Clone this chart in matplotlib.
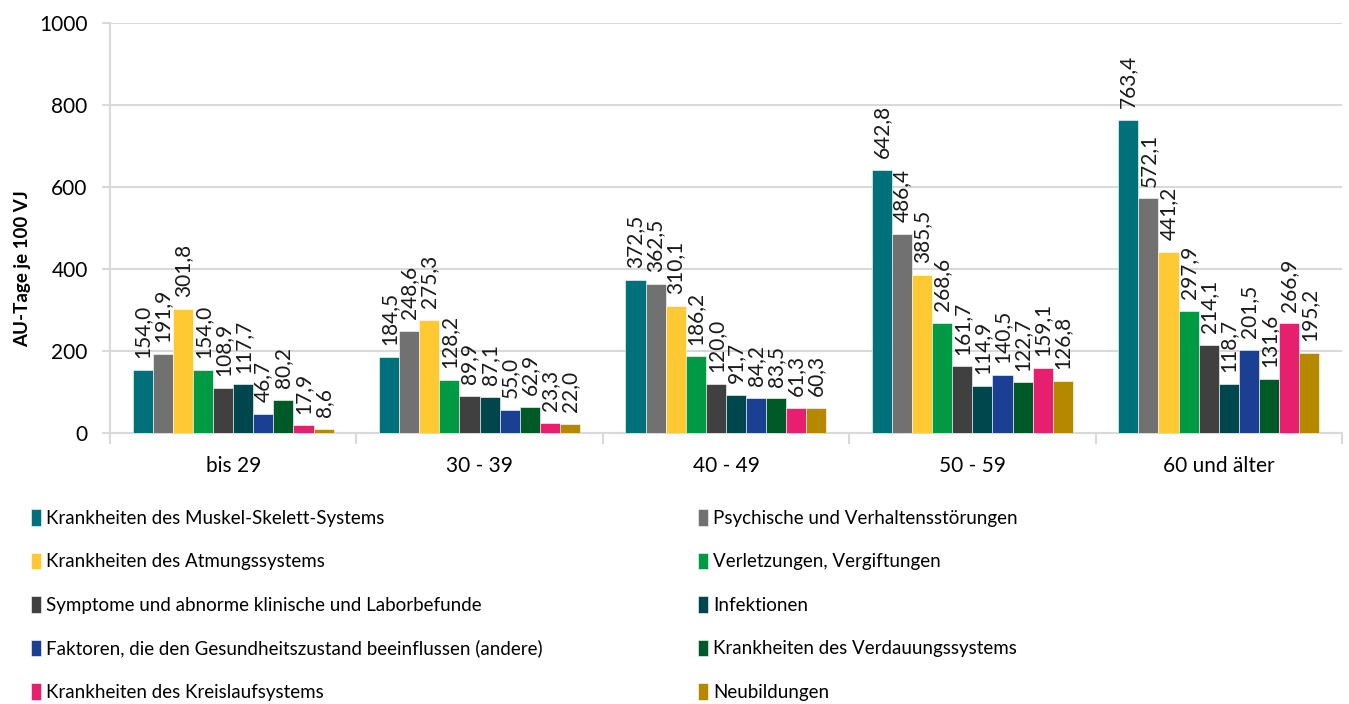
import matplotlib
matplotlib.use("Agg")
import matplotlib.pyplot as plt
import numpy as np

plt.rcParams['font.family'] = ['Lato', 'DejaVu Sans']

# Altersgruppen
groups = ['bis 29', '30 - 39', '40 - 49', '50 - 59', '60 und älter']

# Diagnosegruppen und Farben
series_names = [
    'Krankheiten des Muskel-Skelett-Systems',
    'Psychische und Verhaltensstörungen',
    'Krankheiten des Atmungssystems',
    'Verletzungen, Vergiftungen',
    'Symptome und abnorme klinische und Laborbefunde',
    'Infektionen',
    'Faktoren, die den Gesundheitszustand beeinflussen (andere)',
    'Krankheiten des Verdauungssystems',
    'Krankheiten des Kreislaufsystems',
    'Neubildungen',
]
colors = ['#00717A', '#717171', '#FFC933', '#009A44', '#404040',
          '#00464D', '#1B3F93', '#005A27', '#E6206F', '#B58800']

# AU-Tage je 100 VJ
muskel = [154.0, 184.5, 372.5, 642.8, 763.4]
psyche = [191.9, 248.6, 362.5, 486.4, 572.1]
atmung = [301.8, 275.3, 310.1, 385.5, 441.2]
verletzung = [154.0, 128.2, 186.2, 268.6, 297.9]
symptome = [108.9, 89.9, 120.0, 161.7, 214.1]
infektion = [117.7, 87.1, 91.7, 114.9, 118.7]
faktoren = [46.7, 55.0, 84.2, 140.5, 201.5]
verdauung = [80.2, 62.9, 83.5, 122.7, 131.6]
kreislauf = [17.9, 23.3, 61.3, 159.1, 266.9]
neubildung = [8.6, 22.0, 60.3, 126.8, 195.2]

values = [muskel, psyche, atmung, verletzung, symptome,
          infektion, faktoren, verdauung, kreislauf, neubildung]

fig = plt.figure(figsize=(13.49, 7.04), dpi=100)
ax = fig.add_axes([0.0815, 0.3854, 0.9133, 0.5815])

x = np.arange(len(groups))
bw = 0.0816
n = len(values)
bars = []
for i, (vals, c, name) in enumerate(zip(values, colors, series_names)):
    pos = x - bw * n / 2 + bw * (i + 0.5)
    b = ax.bar(pos, vals, width=bw, color=c, edgecolor='white', linewidth=0.4,
               label=name, zorder=3)
    bars.append(b)
    for p, v in zip(pos, vals):
        ax.annotate(f'{v:.1f}'.replace('.', ','), (p, v), xytext=(0, 8.5),
                    textcoords='offset points', rotation=90, ha='center',
                    va='bottom', fontsize=15, color='#1a1a1a')

ax.set_ylim(0, 1000)
ax.set_xlim(-0.5, len(groups) - 0.5)
ax.set_yticks(np.arange(0, 1001, 200))
ax.grid(axis='y', color='#D9D9D9', linewidth=1.5, zorder=0)

# Gruppengrenzen als Major-Ticks, Beschriftung in der Mitte
ax.set_xticks(np.arange(-0.5, len(groups), 1.0))
ax.set_xticklabels([])
ax.set_xticks(x, minor=True)
ax.set_xticklabels(groups, minor=True, fontsize=15)
ax.tick_params(axis='x', which='major', length=8, width=1.5, color='#D9D9D9')
ax.tick_params(axis='x', which='minor', length=0, pad=17)
ax.tick_params(axis='y', length=6, width=1.5, color='#D9D9D9', labelsize=15, pad=10)

for s in ['top', 'right']:
    ax.spines[s].set_visible(False)
for s in ['left', 'bottom']:
    ax.spines[s].set_color('#D9D9D9')
    ax.spines[s].set_linewidth(1.5)

ax.set_ylabel('AU-Tage je 100 VJ', fontsize=13.5, fontweight='bold')
ax.yaxis.set_label_coords(-0.064, 0.40)

# Legende in zwei Spalten
leg_kw = dict(frameon=False, fontsize=13.5, handlelength=0.55, handleheight=1.0,
              handletextpad=0.25, labelspacing=1.37, borderaxespad=0, borderpad=0)
leg1 = fig.legend([bars[i] for i in range(0, n, 2)],
                  [series_names[i] for i in range(0, n, 2)],
                  loc='upper left', bbox_to_anchor=(31 / 1349, 1 - 509 / 704), **leg_kw)
leg2 = fig.legend([bars[i] for i in range(1, n, 2)],
                  [series_names[i] for i in range(1, n, 2)],
                  loc='upper left', bbox_to_anchor=(698 / 1349, 1 - 509 / 704), **leg_kw)

fig.savefig('out.png', dpi=100)
